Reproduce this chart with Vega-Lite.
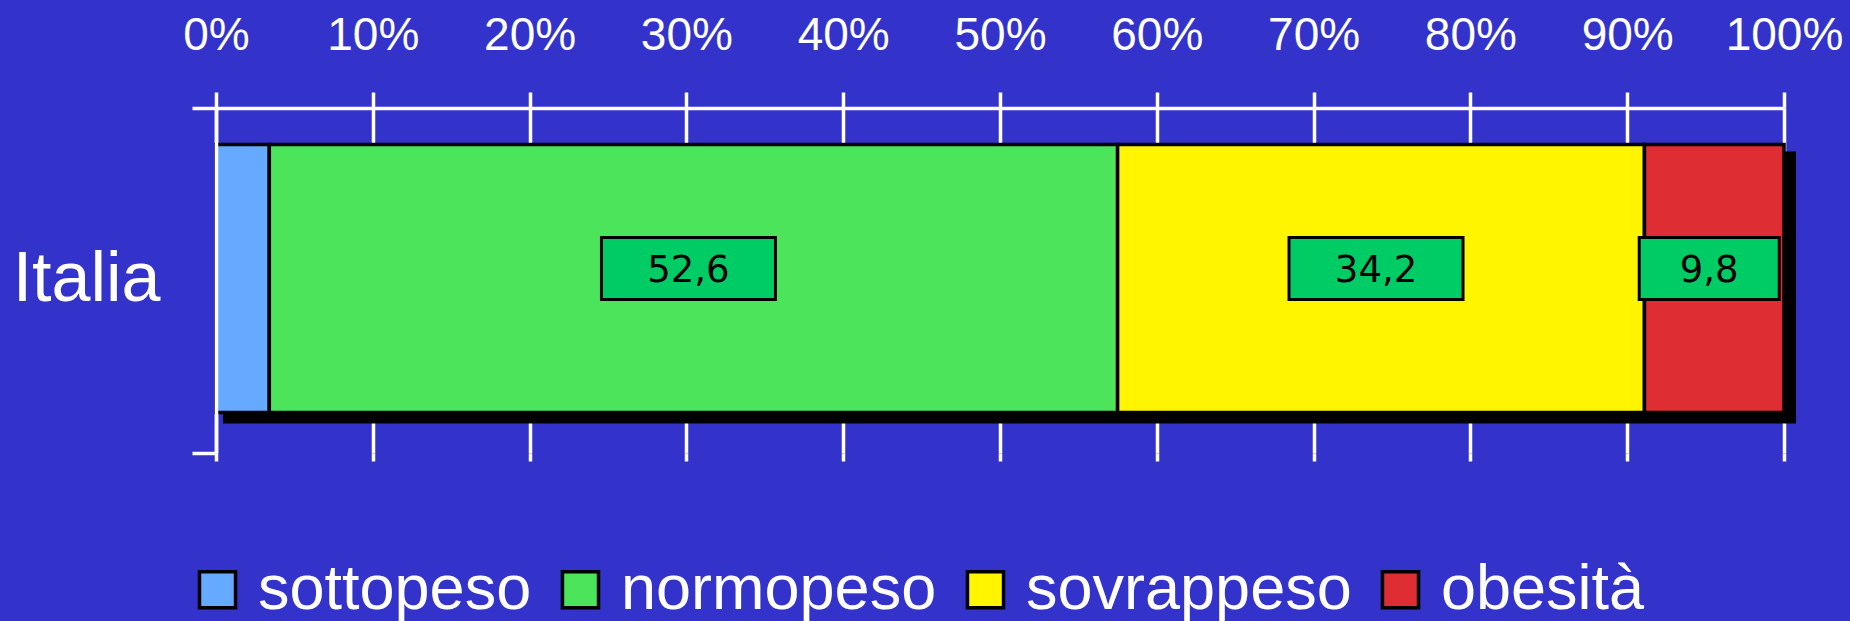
{
  "$schema": "https://vega.github.io/schema/vega-lite/v6.json",
  "width": 1568,
  "height": 345,
  "autosize": {"type": "none"},
  "padding": {"left": 216, "top": 108, "right": 66, "bottom": 168},
  "background": "#3333CC",
  "config": {"view": {"stroke": null}, "font": "Liberation Sans"},
  "data": {
    "values": [
      {"paese": "Italia", "categoria": "sottopeso", "ordine": 1, "quota": 3.4, "etichetta": ""},
      {"paese": "Italia", "categoria": "normopeso", "ordine": 2, "quota": 54.1, "etichetta": "52,6"},
      {"paese": "Italia", "categoria": "sovrappeso", "ordine": 3, "quota": 33.6, "etichetta": "34,2"},
      {"paese": "Italia", "categoria": "obesità", "ordine": 4, "quota": 8.9, "etichetta": "9,8"}
    ]
  },
  "transform": [
    {"stack": "quota", "groupby": ["paese"], "sort": [{"field": "ordine", "order": "ascending"}], "as": ["inizio", "fine"]},
    {"calculate": "(datum.inizio + datum.fine) / 2", "as": "centro"}
  ],
  "encoding": {
    "y": {
      "field": "paese",
      "type": "nominal",
      "scale": {"paddingInner": 0, "paddingOuter": 0},
      "axis": {
        "title": null,
        "orient": "left",
        "domainColor": "white",
        "domainWidth": 3.5,
        "tickColor": "white",
        "tickWidth": 3.5,
        "tickSize": 24,
        "tickBand": "extent",
        "labelColor": "white",
        "labelFont": "Liberation Sans",
        "labelFontSize": 70,
        "labelPadding": 32,
        "labelOffset": -1,
        "grid": false,
        "zindex": 1
      }
    }
  },
  "resolve": {"axis": {"x": "independent"}},
  "layer": [
    {
      "transform": [
        {"aggregate": [{"op": "min", "field": "inizio", "as": "a"}, {"op": "max", "field": "fine", "as": "b"}], "groupby": ["paese"]}
      ],
      "mark": {"type": "bar", "color": "black", "height": 272, "yOffset": 7, "xOffset": 7, "x2Offset": 12},
      "encoding": {
        "x": {
          "field": "a",
          "type": "quantitative",
          "scale": {"domain": [0, 100], "nice": false},
          "axis": {
            "orient": "top",
            "title": null,
            "values": [0, 10, 20, 30, 40, 50, 60, 70, 80, 90, 100],
            "labelExpr": "datum.value + '%'",
            "labelFont": "Liberation Sans",
            "labelFontSize": 46,
            "labelColor": "white",
            "labelPadding": 33,
            "labelFlush": false,
            "labelOverlap": false,
            "labelBound": false,
            "domainColor": "white",
            "domainWidth": 3.5,
            "tickColor": "white",
            "tickWidth": 3.5,
            "tickSize": 16,
            "grid": true,
            "gridColor": "white",
            "gridWidth": 3.5,
            "gridOpacity": 1,
            "zindex": 0
          }
        },
        "x2": {"field": "b"}
      }
    },
    {
      "mark": {"type": "bar", "height": 268, "yOffset": -2, "stroke": "black", "strokeWidth": 3.5},
      "encoding": {
        "x": {
          "field": "inizio",
          "type": "quantitative",
          "axis": {
            "orient": "bottom",
            "title": null,
            "values": [0, 10, 20, 30, 40, 50, 60, 70, 80, 90, 100],
            "labels": false,
            "domain": false,
            "grid": false,
            "tickColor": "white",
            "tickWidth": 3.5,
            "tickSize": 8,
            "zindex": 0
          }
        },
        "x2": {"field": "fine"},
        "color": {
          "field": "categoria",
          "type": "nominal",
          "scale": {
            "domain": ["sottopeso", "normopeso", "sovrappeso", "obesità"],
            "range": ["#66AAFF", "#4CE45A", "#FFF500", "#DE2D33"]
          },
          "legend": {
            "title": null,
            "orient": "none",
            "direction": "horizontal",
            "legendX": -30,
            "legendY": 450,
            "labelFont": "Liberation Sans",
            "labelFontSize": 63,
            "labelColor": "white",
            "labelLimit": 1000,
            "labelOffset": 9,
            "columnPadding": 17,
            "symbolType": "square",
            "symbolSize": 1300,
            "symbolStrokeColor": "black",
            "symbolStrokeWidth": 3.5,
            "symbolOpacity": 1
          }
        }
      }
    },
    {
      "transform": [{"filter": "datum.etichetta != ''"}],
      "mark": {"type": "point", "filled": true, "fill": "#00CC66", "stroke": "black", "strokeWidth": 3, "opacity": 1, "xOffset": -5, "yOffset": -12},
      "encoding": {
        "x": {"field": "centro", "type": "quantitative", "axis": null},
        "shape": {
          "condition": {"test": "length(datum.etichetta) < 4", "value": "M-1,-0.4429L1,-0.4429L1,0.4429L-1,0.4429Z"},
          "value": "M-1,-0.3563L1,-0.3563L1,0.3563L-1,0.3563Z"
        },
        "size": {
          "condition": {"test": "length(datum.etichetta) < 4", "value": 19600},
          "value": 30276
        }
      }
    },
    {
      "transform": [{"filter": "datum.etichetta != ''"}],
      "mark": {"type": "text", "font": "DejaVu Sans", "fontSize": 37, "color": "black", "xOffset": -5, "yOffset": -10, "baseline": "middle", "align": "center"},
      "encoding": {
        "x": {"field": "centro", "type": "quantitative", "axis": null},
        "text": {"field": "etichetta"}
      }
    }
  ]
}
